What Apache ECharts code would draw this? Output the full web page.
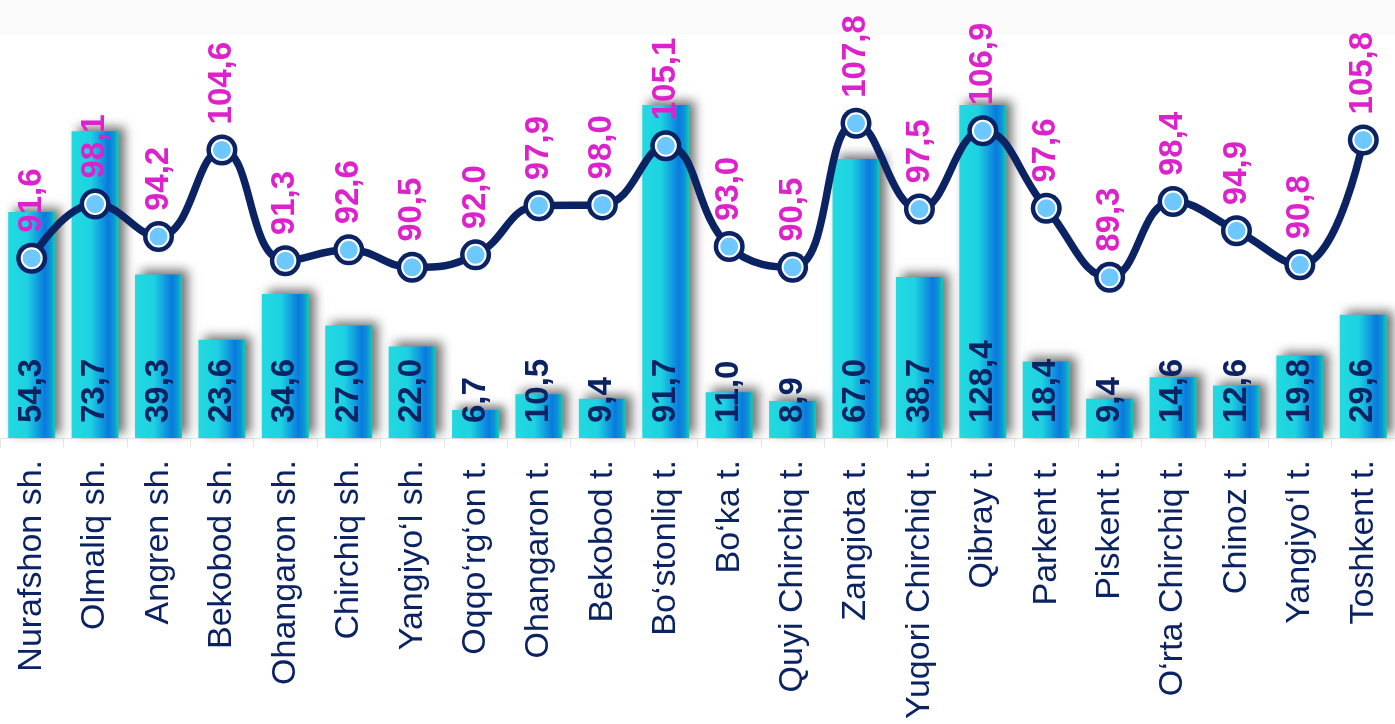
<!DOCTYPE html>
<html>
<head>
<meta charset="utf-8">
<script src="https://cdn.jsdelivr.net/npm/echarts@6/dist/echarts.min.js"></script>
<style>
html,body{margin:0;padding:0;background:#fff;}
#c{width:1395px;height:724px;}
</style>
</head>
<body>
<div id="c"></div>
<script>
const categories = ["Nurafshon sh.","Olmaliq sh.","Angren sh.","Bekobod sh.","Ohangaron sh.","Chirchiq sh.","Yangiyo‘l sh.","Oqqo‘rg‘on t.","Ohangaron t.","Bekobod t.","Bo‘stonliq t.","Bo‘ka t.","Quyi Chirchiq t.","Zangiota t.","Yuqori Chirchiq t.","Qibray t.","Parkent t.","Piskent t.","O‘rta Chirchiq t.","Chinoz t.","Yangiyo‘l t.","Toshkent t."];
const barValues = [54.3,73.7,39.3,23.6,34.6,27.0,22.0,6.7,10.5,9.4,91.7,11.0,8.9,67.0,38.7,128.4,18.4,9.4,14.6,12.6,19.8,29.6];
const lineValues = [91.6,98.1,94.2,104.6,91.3,92.6,90.5,92.0,97.9,98.0,105.1,93.0,90.5,107.8,97.5,106.9,97.6,89.3,98.4,94.9,90.8,105.8];

const fmt = p => p.value.toFixed(1).replace('.', ',');
const navy = '#0b2263';
const chart = echarts.init(document.getElementById('c'));
chart.setOption({
  animation: false,
  backgroundColor: '#ffffff',
  graphic: [{type:'rect', left:0, top:0, shape:{width:1395, height:35}, style:{fill:'#fafafa'}, z:-10}],
  grid: {left: 0, right: 0, top: 105, bottom: 286, containLabel: false},
  xAxis: {
    type: 'category',
    data: categories,
    axisLine: {lineStyle: {color: '#e6e6e6', width: 1}},
    axisTick: {show: true, length: 10, lineStyle: {color: '#e6e6e6'}},
    axisLabel: {rotate: 90, interval: 0, margin: 22, color: navy, fontSize: 34, fontFamily: 'Liberation Sans'}
  },
  yAxis: [
    {type: 'value', min: 0, max: 80, show: false, splitLine: {show: false}},
    {type: 'value', min: 70, max: 110, show: false, splitLine: {show: false}}
  ],
  series: [
    {
      type: 'bar',
      data: barValues,
      yAxisIndex: 0,
      barWidth: 47,
      itemStyle: {
        color: new echarts.graphic.LinearGradient(0, 0, 1, 0, [
          {offset: 0, color: '#22d9e0'},
          {offset: 0.4, color: '#1ed2e2'},
          {offset: 0.78, color: '#0a7ade'},
          {offset: 0.9, color: '#0a96d6'},
          {offset: 1, color: '#12cfb0'}
        ]),
        shadowColor: 'rgba(0,0,0,0.55)',
        shadowBlur: 10,
        shadowOffsetX: 6,
        shadowOffsetY: -4
      },
      label: {
        show: true, position: 'insideBottom', rotate: 90, align: 'left', verticalAlign: 'middle',
        distance: 15, color: navy, fontSize: 33, fontWeight: 'bold', fontFamily: 'Liberation Sans',
        formatter: fmt
      },
      emphasis: {disabled: true},
      z: 2
    },
    {
      type: 'line',
      data: lineValues,
      yAxisIndex: 1,
      smooth: 0.45,
      symbol: 'circle',
      symbolSize: 31,
      lineStyle: {color: navy, width: 7.5},
      itemStyle: {color: navy, opacity: 1},
      label: {
        show: true, position: 'top', rotate: 90, align: 'left', verticalAlign: 'middle',
        distance: 12, offset: [-2, 0], color: '#dd22cc', fontSize: 33, fontWeight: 'bold', fontFamily: 'Liberation Sans',
        formatter: fmt
      },
      emphasis: {disabled: true},
      z: 5
    },
    {
      type: 'scatter',
      data: lineValues,
      yAxisIndex: 1,
      symbol: 'circle',
      symbolSize: 20,
      itemStyle: {color: '#6cc8ff', borderColor: '#ffffff', borderWidth: 2, opacity: 1},
      emphasis: {disabled: true},
      silent: true,
      z: 6
    }
  ]
});
</script>
</body>
</html>
